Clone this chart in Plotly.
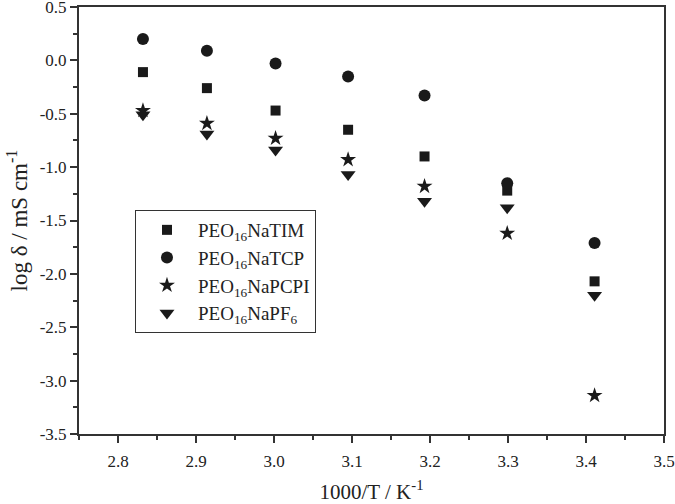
import plotly.graph_objects as go

x_vals = [2.832, 2.914, 3.002, 3.095, 3.193, 3.299, 3.411]
tim = [-0.11, -0.26, -0.47, -0.65, -0.90, -1.22, -2.07]
tcp = [0.20, 0.09, -0.03, -0.15, -0.33, -1.15, -1.71]
pcpi = [-0.47, -0.59, -0.73, -0.93, -1.18, -1.62, -3.14]
pf6 = [-0.51, -0.69, -0.84, -1.07, -1.32, -1.38, -2.20]

y_tick_vals = [0.5, 0.0, -0.5, -1.0, -1.5, -2.0, -2.5, -3.0, -3.5]
y_tick_text = ["0.5", "0.0", "-0.5", "-1.0", "-1.5", "-2.0", "-2.5", "-3.0", "-3.5"]

names = ["PEO<sub>16</sub>NaTIM", "PEO<sub>16</sub>NaTCP",
         "PEO<sub>16</sub>NaPCPI", "PEO<sub>16</sub>NaPF<sub>6</sub>"]
series = [tim, tcp, pcpi, pf6]
symbols = ["square", "circle", "star", "triangle-down"]
sizes = [10, 12, 12, 13]

fig = go.Figure()
for n, s, sym, sz in zip(names, series, symbols, sizes):
    fig.add_trace(go.Scatter(x=x_vals, y=s, mode="markers", name=n,
                             marker=dict(symbol=sym, size=sz, color="#1a1a1a",
                                         line=dict(width=0))))

axis_common = dict(showline=True, linecolor="#333333", linewidth=2, mirror=True,
                   ticks="outside", ticklen=7, tickwidth=2, tickcolor="#333333",
                   showgrid=False, zeroline=False, automargin=False,
                   ticklabeloverflow="allow",
                   tickfont=dict(family="Liberation Serif", size=17, color="#222"))
fig.update_layout(
    width=675, height=504,
    margin=dict(l=79, r=11, t=7, b=70),
    paper_bgcolor="white", plot_bgcolor="white",
    font=dict(family="Liberation Serif", color="#222"),
    xaxis=dict(range=[2.75, 3.5], dtick=0.1, tickformat=".1f", ticklabelstandoff=4,
               minor=dict(ticks="outside", dtick=0.05, ticklen=4, tickwidth=2, tickcolor="#333333"),
               title=dict(text="1000/T / K<sup>-1</sup>", font=dict(size=21), standoff=16),
               **axis_common),
    yaxis=dict(range=[-3.5, 0.5], tickvals=y_tick_vals, ticktext=y_tick_text,
               minor=dict(ticks="outside", dtick=0.25, ticklen=4, tickwidth=2, tickcolor="#333333"),
               title=dict(text="log δ / mS cm<sup>-1</sup>", font=dict(size=23), standoff=6),
               **axis_common),
    legend=dict(x=0.0957, y=0.5246, xanchor="left", yanchor="top",
                bordercolor="#333333", borderwidth=1, bgcolor="white",
                font=dict(family="Liberation Serif", size=19, color="#222"),
                tracegroupgap=0, itemwidth=52),
)
fig.write_html("out.html", post_script="document.body.style.margin='0';",
               config={"displayModeBar": False})
